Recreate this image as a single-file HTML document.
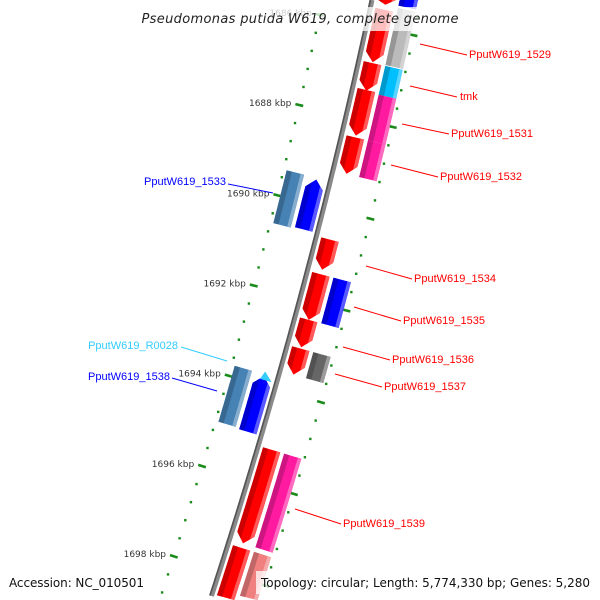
<!DOCTYPE html>
<html><head><meta charset="utf-8"><style>
html,body{margin:0;padding:0;background:#fff;width:600px;height:600px;overflow:hidden;}
svg{display:block;overflow:hidden;}
</style></head><body>
<svg id="map" width="600" height="600" viewBox="0 0 600 600" xmlns="http://www.w3.org/2000/svg">
<g id="ticks"></g>
<g id="backbone"></g>
<g id="feats"></g>
<g id="labels" font-family="Liberation Sans, sans-serif" font-size="11">
 <g fill="#ff0000" stroke="none">
  <text x="469" y="58">PputW619_1529</text>
  <text x="460" y="100">tmk</text>
  <text x="451" y="137">PputW619_1531</text>
  <text x="440" y="180">PputW619_1532</text>
  <text x="414" y="282">PputW619_1534</text>
  <text x="403" y="324">PputW619_1535</text>
  <text x="392" y="363">PputW619_1536</text>
  <text x="384" y="390">PputW619_1537</text>
  <text x="343" y="527">PputW619_1539</text>
 </g>
 <text x="226" y="185" text-anchor="end" fill="#0000ff">PputW619_1533</text>
 <text x="178" y="349" text-anchor="end" fill="#33ccff">PputW619_R0028</text>
 <text x="170" y="380" text-anchor="end" fill="#0000ff">PputW619_1538</text>
 <g stroke-width="1" fill="none">
  <line stroke="#ff0000" x1="420" y1="44" x2="467" y2="55"/>
  <line stroke="#ff0000" x1="410" y1="86" x2="457" y2="97"/>
  <line stroke="#ff0000" x1="402" y1="124" x2="449" y2="134"/>
  <line stroke="#ff0000" x1="391" y1="165" x2="438" y2="177"/>
  <line stroke="#ff0000" x1="366" y1="266" x2="412" y2="279"/>
  <line stroke="#ff0000" x1="354" y1="307" x2="401" y2="321"/>
  <line stroke="#ff0000" x1="343" y1="347" x2="390" y2="360"/>
  <line stroke="#ff0000" x1="335" y1="374" x2="382" y2="387"/>
  <line stroke="#ff0000" x1="295" y1="509" x2="341" y2="524"/>
  <line stroke="#0000ff" x1="228" y1="184" x2="273" y2="193"/>
  <line stroke="#33ccff" x1="181" y1="347" x2="227" y2="361"/>
  <line stroke="#0000ff" x1="172" y1="378" x2="217" y2="391"/>
 </g>
</g>
<rect x="138" y="7" width="326" height="24" fill="#fff" opacity="0.75"/>
<text x="300" y="23" text-anchor="middle" font-family="DejaVu Sans, sans-serif" font-style="italic" font-size="13" textLength="317" fill="#222">Pseudomonas putida W619, complete genome</text>
<rect x="5" y="571" width="144" height="23" fill="#fff" opacity="0.75"/>
<rect x="256" y="571" width="339" height="23" fill="#fff" opacity="0.75"/>
<text x="9" y="587" font-family="DejaVu Sans, sans-serif" font-size="12" textLength="135" fill="#111">Accession: NC_010501</text>
<text x="261" y="587" font-family="DejaVu Sans, sans-serif" font-size="12" textLength="329" fill="#111">Topology: circular; Length: 5,774,330 bp; Genes: 5,280</text>
</svg>
<script>
// feature data (kbp)
const featStart = [1684.5, 1685.6, 1686.77, 1687.36, 1688.4, 1690.64, 1691.4, 1692.4, 1693.03, 1695.25, 1697.4, 1684.5, 1685.5, 1686.77, 1687.4, 1688.4, 1691.4, 1693.03, 1695.25, 1697.4, 1689.47, 1693.8, 1689.43, 1693.76, 1693.7];
const featEnd   = [1685.49, 1686.75, 1687.38, 1688.36, 1689.2, 1691.3, 1692.4, 1693.0, 1693.6, 1697.3, 1698.5, 1685.45, 1686.75, 1687.4, 1688.4, 1689.2, 1692.4, 1693.6, 1697.3, 1698.36, 1690.57, 1695.03, 1690.6, 1695.0, 1693.88];
const featRing  = [1,1,1,1,1,1,1,1,1,1,1, 2,2,2,2,2,2,2,2,2, -1,-1, -2,-2, -1];
const featStrand= [1,1,1,1,1,1,1,1,1,1,0, 0,0,0,0,0,0,0,0,0, -1,-1, 0,0, -2];
const featColor = ["#ff0000","#ff0000","#ff0000","#ff0000","#ff0000","#ff0000","#ff0000","#ff0000","#ff0000","#ff0000","#ff0000",
 "#0000ff","#bbbbbb","#00bfff","#ff1aa0","#ff1aa0","#0000ff","#666666","#ff1aa0","#f08080",
 "#0000ff","#0000ff","#4682b4","#4682b4","#33ccff"];
const majorTicks = [1684,1686,1688,1690,1692,1694,1696,1698,1700];
const tickLabels = ["1684 kbp","1686 kbp","1688 kbp","1690 kbp","1692 kbp","1694 kbp","1696 kbp","1698 kbp","1700 kbp"];

const NS="http://www.w3.org/2000/svg";
function X(y){return 372-0.2131*y-0.0000944*y*y;}
function dX(y){return -0.2131-0.0001888*y;}
function yb(kb){return 116+45.5*(kb-1688);}
function P(kb,r){const y=yb(kb),x=X(y),d=dX(y),L=Math.sqrt(1+d*d);return [x+r/L,y-r*d/L];}
const ringR={1:[5,23],2:[27,45],"-1":[-23,-5],"-2":[-45,-27]};
function mk(tag,attrs,parent){const e=document.createElementNS(NS,tag);for(const k in attrs)e.setAttribute(k,attrs[k]);parent.appendChild(e);return e;}
function pts(a){return a.map(p=>p[0].toFixed(1)+","+Math.max(0,Math.min(600,p[1])).toFixed(1)).join(" ");}
function band(k1,k2,r1,r2){const a=[],b=[],n=20;for(let i=0;i<=n;i++){const k=k1+(k2-k1)*i/n;a.push(P(k,r1));b.push(P(k,r2));}return a.concat(b.reverse());}

// backbone
const bb=document.getElementById('backbone');
function line(r){const a=[];for(let k=1685.45;k<=1698.64;k+=0.1)a.push(P(k,r));return pts(a);}
const b1=mk('polyline',{points:line(0),fill:'none',stroke:'#8a8a8a','stroke-width':5},bb);


const b2=mk('polyline',{points:line(-1.6),fill:'none',stroke:'#555','stroke-width':1.6},bb);



// ticks
const tg=document.getElementById('ticks');
for(const r of [-48,48]){
  for(let k=1684;k<=1700.01;k+=0.4){
    const kk=Math.round(k*10)/10;
    if(Math.abs(kk/2-Math.round(kk/2))<0.01)continue;
    const p=P(kk,r);
    if(p[1]<2||p[1]>597)continue;
    const c=mk('rect',{x:p[0]-1.2,y:p[1]-1.2,width:2.4,height:2.4,fill:'#1a8a1a'},tg);
    
    
  }
  majorTicks.forEach((k,i)=>{
    const a=P(k,r-4),b=P(k,r+4);
    if(a[1]<2||b[1]>597)return;
    const l=mk('line',{x1:a[0],y1:a[1],x2:b[0],y2:b[1],stroke:'#1a8a1a','stroke-width':2.6},tg);
    
    
    if(r<0){
      const t=mk('text',{x:a[0]-4,y:a[1]+2,'text-anchor':'end','font-family':'DejaVu Sans, sans-serif','font-size':'9',fill:'#333'},tg);
      t.textContent=tickLabels[i];
      
      
    }
  });
}

// features
const fg=document.getElementById('feats');
const defs=mk('defs',{},fg);
function shade(c,f){const n=parseInt(c.slice(1),16);let r=n>>16,g=(n>>8)&255,b=n&255;
 if(f<1){r*=f;g*=f;b*=f;}else{r+=(255-r)*(f-1);g+=(255-g)*(f-1);b+=(255-b)*(f-1);}
 return "rgb("+Math.round(r)+","+Math.round(g)+","+Math.round(b)+")";}
featStart.forEach((s,i)=>{
  const e=featEnd[i],rr=ringR[featRing[i]],r1=rr[0],r2=rr[1],st=featStrand[i],col=featColor[i];
  let poly;const h=0.2,m=(r1+r2)/2;
  if(st===-2){
    poly=[P(s,m),P(e,r1+6),P(e,r2)];
  } else if(st===1){
    const body=band(s,e-h,r1,r2);const half=body.length/2;
    poly=body.slice(0,half).concat([P(e,m)]).concat(body.slice(half));
  } else if(st===-1){
    const body=band(s+h,e,r1,r2);
    poly=[P(s,m)].concat(body);
  } else poly=band(s,e,r1,r2);
  const g=mk('g',{},fg);
  
  
  const id='cp'+i;
  const cp=mk('clipPath',{id:id},defs);mk('polygon',{points:pts(poly)},cp);
  mk('polygon',{points:pts(poly),fill:col},g);
  if(st!==-2){
    const w=r2-r1;
    mk('polygon',{points:pts(band(s,e,r1,r1+w*0.3)),fill:shade(col,0.8),'clip-path':'url(#'+id+')'},g);
    mk('polygon',{points:pts(band(s,e,r2-w*0.2,r2)),fill:shade(col,1.35),'clip-path':'url(#'+id+')'},g);
  }
});
</script>
</body></html>
